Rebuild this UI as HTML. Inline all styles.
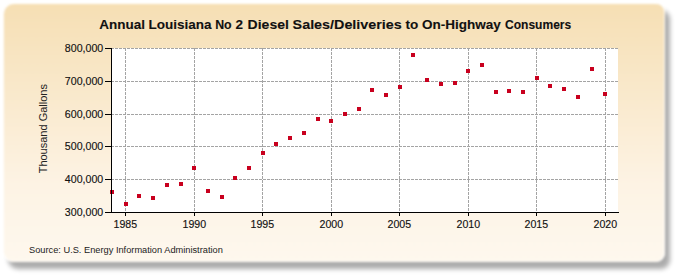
<!DOCTYPE html>
<html><head><meta charset="utf-8"><style>
html,body{margin:0;padding:0;background:#fff;width:675px;height:275px;overflow:hidden}
.frame{position:absolute;left:3px;top:3px;width:662px;height:259px;border-radius:11px 9px 9px 10px;
background:linear-gradient(to bottom,#f6dfb4 0%,#fdf3e4 70%,#fef8ee 100%);
box-shadow:5px 7px 4px rgba(0,0,0,0.33);box-sizing:border-box;border:1px solid rgba(255,255,255,0.85);filter:blur(1.2px)}
svg{position:absolute;left:0;top:0}
text{font-family:"Liberation Sans",sans-serif}
</style></head><body>
<div class="frame"></div>
<svg width="675" height="275" viewBox="0 0 675 275">
<rect x="111" y="48" width="507" height="164" fill="#fff"/>
<g stroke="#a4a4a4" stroke-width="1" stroke-dasharray="3,1" fill="none">
<line x1="125.5" y1="48" x2="125.5" y2="212"/>
<line x1="194.5" y1="48" x2="194.5" y2="212"/>
<line x1="262.5" y1="48" x2="262.5" y2="212"/>
<line x1="331.5" y1="48" x2="331.5" y2="212"/>
<line x1="399.5" y1="48" x2="399.5" y2="212"/>
<line x1="468.5" y1="48" x2="468.5" y2="212"/>
<line x1="536.5" y1="48" x2="536.5" y2="212"/>
<line x1="605.5" y1="48" x2="605.5" y2="212"/>
<line x1="111" y1="179.5" x2="618" y2="179.5"/>
<line x1="111" y1="146.5" x2="618" y2="146.5"/>
<line x1="111" y1="114.5" x2="618" y2="114.5"/>
<line x1="111" y1="81.5" x2="618" y2="81.5"/>
<line x1="111" y1="48.5" x2="618" y2="48.5"/>
</g>
<g stroke="#a4a4a4" stroke-width="1" stroke-dasharray="3,1" fill="none">
<line x1="111" y1="48.5" x2="618" y2="48.5"/>
</g>
<g fill="#c8001e">
<rect x="110" y="190" width="4" height="4"/>
<rect x="124" y="202" width="4" height="4"/>
<rect x="137" y="194" width="4" height="4"/>
<rect x="151" y="196" width="4" height="4"/>
<rect x="165" y="183" width="4" height="4"/>
<rect x="179" y="182" width="4" height="4"/>
<rect x="192" y="166" width="4" height="4"/>
<rect x="206" y="189" width="4" height="4"/>
<rect x="220" y="195" width="4" height="4"/>
<rect x="233" y="176" width="4" height="4"/>
<rect x="247" y="166" width="4" height="4"/>
<rect x="261" y="151" width="4" height="4"/>
<rect x="274" y="142" width="4" height="4"/>
<rect x="288" y="136" width="4" height="4"/>
<rect x="302" y="131" width="4" height="4"/>
<rect x="316" y="117" width="4" height="4"/>
<rect x="329" y="119" width="4" height="4"/>
<rect x="343" y="112" width="4" height="4"/>
<rect x="357" y="107" width="4" height="4"/>
<rect x="370" y="88" width="4" height="4"/>
<rect x="384" y="93" width="4" height="4"/>
<rect x="398" y="85" width="4" height="4"/>
<rect x="411" y="53" width="4" height="4"/>
<rect x="425" y="78" width="4" height="4"/>
<rect x="439" y="82" width="4" height="4"/>
<rect x="453" y="81" width="4" height="4"/>
<rect x="466" y="69" width="4" height="4"/>
<rect x="480" y="63" width="4" height="4"/>
<rect x="494" y="90" width="4" height="4"/>
<rect x="507" y="89" width="4" height="4"/>
<rect x="521" y="90" width="4" height="4"/>
<rect x="535" y="76" width="4" height="4"/>
<rect x="548" y="84" width="4" height="4"/>
<rect x="562" y="87" width="4" height="4"/>
<rect x="576" y="95" width="4" height="4"/>
<rect x="590" y="67" width="4" height="4"/>
<rect x="603" y="92" width="4" height="4"/>
</g>
<g stroke="#000" stroke-width="1" fill="none">
<line x1="111.5" y1="48" x2="111.5" y2="213"/>
<line x1="105" y1="212.5" x2="619" y2="212.5"/>
<line x1="105" y1="212.5" x2="111" y2="212.5"/>
<line x1="105" y1="179.5" x2="111" y2="179.5"/>
<line x1="105" y1="146.5" x2="111" y2="146.5"/>
<line x1="105" y1="114.5" x2="111" y2="114.5"/>
<line x1="105" y1="81.5" x2="111" y2="81.5"/>
<line x1="105" y1="48.5" x2="111" y2="48.5"/>
<line x1="125.5" y1="212" x2="125.5" y2="216"/>
<line x1="194.5" y1="212" x2="194.5" y2="216"/>
<line x1="262.5" y1="212" x2="262.5" y2="216"/>
<line x1="331.5" y1="212" x2="331.5" y2="216"/>
<line x1="399.5" y1="212" x2="399.5" y2="216"/>
<line x1="468.5" y1="212" x2="468.5" y2="216"/>
<line x1="536.5" y1="212" x2="536.5" y2="216"/>
<line x1="605.5" y1="212" x2="605.5" y2="216"/>
</g>
<g font-size="11.8" fill="#111" stroke="#111" stroke-width="0.15" text-anchor="end">
<text transform="translate(103.2,215.5) scale(0.9,1)">300,000</text>
<text transform="translate(103.2,182.5) scale(0.9,1)">400,000</text>
<text transform="translate(103.2,149.5) scale(0.9,1)">500,000</text>
<text transform="translate(103.2,117.5) scale(0.9,1)">600,000</text>
<text transform="translate(103.2,84.5) scale(0.9,1)">700,000</text>
<text transform="translate(103.2,51.5) scale(0.9,1)">800,000</text>
</g>
<g font-size="11.8" fill="#111" stroke="#111" stroke-width="0.15" text-anchor="middle">
<text transform="translate(125.3,227.6) scale(0.9,1)">1985</text>
<text transform="translate(194.3,227.6) scale(0.9,1)">1990</text>
<text transform="translate(262.3,227.6) scale(0.9,1)">1995</text>
<text transform="translate(331.3,227.6) scale(0.9,1)">2000</text>
<text transform="translate(399.3,227.6) scale(0.9,1)">2005</text>
<text transform="translate(468.3,227.6) scale(0.9,1)">2010</text>
<text transform="translate(536.3,227.6) scale(0.9,1)">2015</text>
<text transform="translate(605.3,227.6) scale(0.9,1)">2020</text>
</g>
<text x="99.3" y="28.7" font-size="13.5" font-weight="bold" fill="#111" stroke="#111" stroke-width="0.12">Annual</text>
<text x="148.5" y="28.7" font-size="13.5" font-weight="bold" fill="#111" stroke="#111" stroke-width="0.12">Louisiana</text>
<text x="215.2" y="28.7" textLength="16.45" lengthAdjust="spacingAndGlyphs" font-size="13.5" font-weight="bold" fill="#111" stroke="#111" stroke-width="0.12">No</text>
<text x="235.4" y="28.7" font-size="13.5" font-weight="bold" fill="#111" stroke="#111" stroke-width="0.12">2</text>
<text x="247.6" y="28.7" textLength="41.25" lengthAdjust="spacingAndGlyphs" font-size="13.5" font-weight="bold" fill="#111" stroke="#111" stroke-width="0.12">Diesel</text>
<text x="292.6" y="28.7" textLength="109.2" lengthAdjust="spacingAndGlyphs" font-size="13.5" font-weight="bold" fill="#111" stroke="#111" stroke-width="0.12">Sales/Deliveries</text>
<text x="405.5" y="28.7" font-size="13.5" font-weight="bold" fill="#111" stroke="#111" stroke-width="0.12">to</text>
<text x="422.1" y="28.7" font-size="13.5" font-weight="bold" fill="#111" stroke="#111" stroke-width="0.12">On-Highway</text>
<text x="505.0" y="28.7" textLength="66.2" lengthAdjust="spacingAndGlyphs" font-size="13.5" font-weight="bold" fill="#111" stroke="#111" stroke-width="0.12">Consumers</text>
<text transform="translate(47.0,128.7) rotate(-90)" font-size="11" text-anchor="middle" fill="#222">Thousand Gallons</text>
<text x="29" y="252.7" font-size="9.25" fill="#222">Source: U.S. Energy Information Administration</text>
</svg>
</body></html>
